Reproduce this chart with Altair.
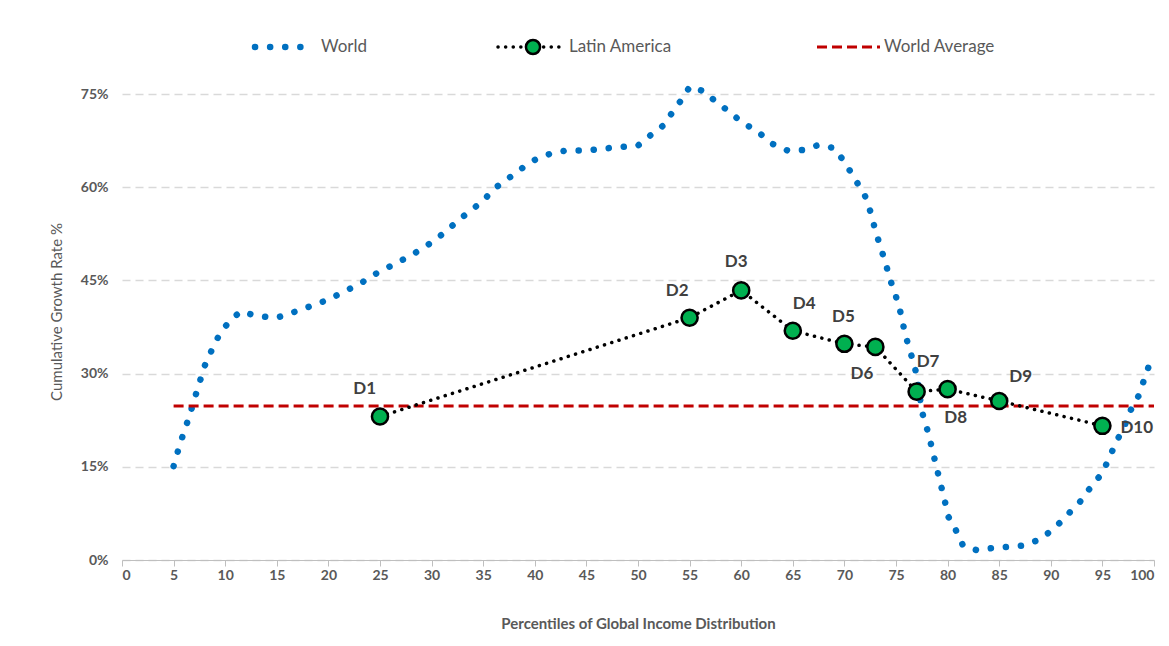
import altair as alt
import pandas as pd

# World growth incidence curve (percentile, cumulative growth %)
WORLD_X = [5, 5.5, 6, 6.5, 7, 7.5, 8, 8.7, 9.5, 10.5, 11.5, 13, 15, 16.5, 18, 20, 21.5, 23, 24.5, 26,
           27.5, 29, 30.5, 32, 33.5, 35, 36, 37.5, 38.8, 40, 41.5, 43, 45, 46.5, 48.5, 50, 51, 52.5,
           53.5, 54.5, 55, 56.5, 57.5, 59, 60, 61.5, 63, 64.5, 66, 67.5, 69, 70, 71, 72, 72.6, 73,
           73.5, 74, 74.5, 75, 75.5, 75.8, 76.2, 76.7, 77.1, 77.3, 77.6, 78.1, 78.5, 78.9, 79.3,
           79.7, 80.1, 80.8, 81.5, 82.8, 84.2, 85.7, 87.2, 88.8, 90.3, 91.5, 92.8, 93.9, 95, 95.7,
           96.4, 97.1, 97.7, 98.5, 99, 99.6]
WORLD_Y = [15.1, 18, 20.6, 23, 25.8, 28.5, 31.2, 33.8, 36.5, 38.6, 40, 39.3, 39, 39.8, 40.7, 41.9,
           43.2, 44.4, 46, 47.3, 48.6, 50, 51.7, 53.8, 55.9, 57.8, 59.7, 61.5, 63.1, 64.4, 65.4,
           65.9, 65.9, 66.2, 66.5, 66.7, 68.1, 70, 72.5, 74.7, 76.2, 75.4, 73.8, 72, 70.5, 69.1,
           67, 65.9, 66, 66.8, 66.3, 64.1, 61.4, 58.6, 55.7, 53, 50.4, 47.7, 44.8, 42.4, 39.5, 37,
           34.5, 31.8, 29.1, 26.2, 23.4, 20.6, 17.9, 15.1, 12.4, 9.7, 6.9, 4.8, 2.3, 1.6, 1.9, 2.1,
           2.3, 3.2, 5, 7.1, 9.3, 11.8, 14, 16.6, 19.2, 21.4, 24, 26.4, 28.8, 31.7]

# Latin America deciles
LA_LABELS = ["D1", "D2", "D3", "D4", "D5", "D6", "D7", "D8", "D9", "D10"]
LA_X = [25, 55, 60, 65, 70, 73, 77, 80, 85, 95]
LA_Y = [23.1, 39, 43.4, 36.9, 34.8, 34.3, 27.1, 27.5, 25.6, 21.6]

WORLD_AVG = 24.8

# label placement (dx, dy, align) per decile - styling only
LABEL_POS = {
    "D1": (-4, -27, "right"), "D2": (-1, -27, "right"), "D3": (-5, -28, "center"),
    "D4": (0, -27, "left"), "D5": (-1, -27, "center"), "D6": (-2, 27, "right"),
    "D7": (0, -30, "left"), "D8": (8, 29, "center"), "D9": (10, -24, "left"),
    "D10": (18, 2, "left"),
}

FONT = "Lato"
GREY = "#595959"

world = pd.DataFrame({"x": WORLD_X, "y": WORLD_Y, "i": range(len(WORLD_X))})
la = pd.DataFrame({"x": LA_X, "y": LA_Y, "label": LA_LABELS, "i": range(len(LA_X))})
avg = pd.DataFrame({"x": [5], "x2": [100], "y": [WORLD_AVG]})

xscale = alt.Scale(domain=[0, 100], nice=False)
yscale = alt.Scale(domain=[0, 80], nice=False)

x_enc = alt.X("x:Q", scale=xscale, axis=alt.Axis(
    values=list(range(0, 101, 5)), title="Percentiles of Global Income Distribution",
    grid=False, domainColor="#bfbfbf", tickColor="#bfbfbf", tickSize=6,
    labelColor=GREY, labelFont=FONT, labelFontSize=14, labelFontWeight="bold",
    titleColor=GREY, titleFont=FONT, titleFontSize=15, titleFontWeight="bold", titlePadding=34))
y_enc = alt.Y("y:Q", scale=yscale, axis=alt.Axis(
    values=[0, 15, 30, 45, 60, 75], labelExpr="datum.value + '%'",
    title="Cumulative Growth Rate %", domain=False, ticks=False,
    gridColor="#d9d9d9", gridDash=[8, 5], gridWidth=1.5,
    labelColor=GREY, labelFont=FONT, labelFontSize=14, labelFontWeight="bold", labelPadding=14,
    titleColor=GREY, titleFont=FONT, titleFontSize=15, titleFontWeight="normal", titlePadding=16))

world_line = alt.Chart(world).mark_line(
    color="#0070c0", strokeWidth=6.5, strokeDash=[0.1, 15], strokeCap="round"
).encode(x=x_enc, y=y_enc, order="i:Q")

avg_line = alt.Chart(avg).mark_rule(
    color="#c00000", strokeWidth=3, strokeDash=[10, 5]
).encode(x="x:Q", x2="x2:Q", y="y:Q")

la_line = alt.Chart(la).mark_line(
    color="black", strokeWidth=3.5, strokeDash=[0.1, 7.5], strokeCap="round"
).encode(x="x:Q", y="y:Q", order="i:Q")

la_pts = alt.Chart(la).mark_point(
    filled=True, color="#00b050", stroke="black", strokeWidth=2.5, size=260, opacity=1
).encode(x="x:Q", y="y:Q")

labels = []
for lab, (dx, dy, al) in LABEL_POS.items():
    labels.append(alt.Chart(la[la.label == lab]).mark_text(
        dx=dx, dy=dy, align=al, baseline="middle", font=FONT, fontSize=17,
        fontWeight="bold", color="#404040"
    ).encode(x="x:Q", y="y:Q", text="label:N"))

# legend drawn by hand above the plot
leg_y = -16
leg = [
    alt.Chart(world.head(1)).mark_rule(color="#0070c0", strokeWidth=6.5, strokeDash=[0.1, 15],
                                        strokeCap="round").encode(
        x=alt.value(133), x2=alt.value(190), y=alt.value(leg_y), y2=alt.value(leg_y)),
    alt.Chart(world.head(1)).mark_text(text="World", align="left", font=FONT, fontSize=17,
                                        color=GREY).encode(x=alt.value(199), y=alt.value(leg_y)),
    alt.Chart(world.head(1)).mark_rule(color="black", strokeWidth=3.5, strokeDash=[0.1, 7.5],
                                        strokeCap="round").encode(
        x=alt.value(376), x2=alt.value(442), y=alt.value(leg_y), y2=alt.value(leg_y)),
    alt.Chart(world.head(1)).mark_point(filled=True, color="#00b050", stroke="black",
                                         strokeWidth=2.5, size=200, opacity=1).encode(
        x=alt.value(411), y=alt.value(leg_y)),
    alt.Chart(world.head(1)).mark_text(text="Latin America", align="left", font=FONT, fontSize=17,
                                        color=GREY).encode(x=alt.value(447), y=alt.value(leg_y)),
    alt.Chart(world.head(1)).mark_rule(color="#c00000", strokeWidth=3, strokeDash=[10, 5]).encode(
        x=alt.value(695), x2=alt.value(758), y=alt.value(leg_y), y2=alt.value(leg_y)),
    alt.Chart(world.head(1)).mark_text(text="World Average", align="left", font=FONT, fontSize=17,
                                        color=GREY).encode(x=alt.value(762), y=alt.value(leg_y)),
]

chart = alt.layer(world_line, avg_line, la_line, la_pts, *labels, *leg).properties(
    width=1032, height=497,
    autosize=alt.AutoSizeParams(type="none"),
    padding={"left": 114, "top": 55, "right": 5, "bottom": 80},
).configure_view(stroke=None)

chart.save("out.html", embed_options={"renderer": "svg", "actions": False})
